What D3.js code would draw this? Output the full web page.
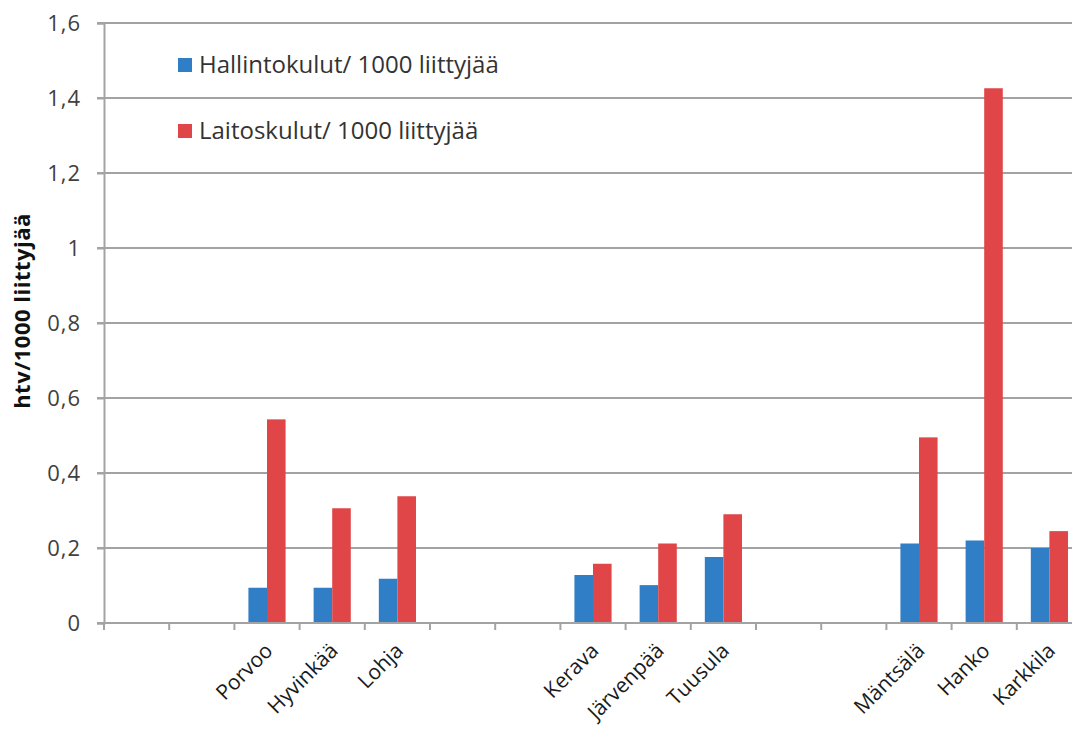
<!DOCTYPE html>
<html><head><meta charset="utf-8">
<script src="https://cdn.jsdelivr.net/npm/d3@7"></script>
<style>
html,body{margin:0;padding:0;background:#fff;overflow:hidden;}
svg text{font-family:"Open Sans","Noto Sans",sans-serif;}
</style></head>
<body><svg id="c" width="1072" height="734"></svg>
<script>
const categories = ["", "", "Porvoo", "Hyvinkää", "Lohja", "", "", "Kerava", "Järvenpää", "Tuusula", "", "", "Mäntsälä", "Hanko", "Karkkila"];
const hallinto = [null, null, 0.094, 0.094, 0.118, null, null, 0.128, 0.101, 0.176, null, null, 0.212, 0.220, 0.200];
const laitos   = [null, null, 0.543, 0.306, 0.338, null, null, 0.158, 0.212, 0.290, null, null, 0.495, 1.426, 0.245];
const seriesNames = ["Hallintokulut/ 1000 liittyjää", "Laitoskulut/ 1000 liittyjää"];
const yTicks = [0, 0.2, 0.4, 0.6, 0.8, 1, 1.2, 1.4, 1.6];
const yTitle = "htv/1000 liittyjää";

(function () {
const colors = ["#2f7ec6", "#e04548"];
const svg = d3.select("#c");
const mLeft = 104, mRight = 1082, mTop = 23, mBottom = 623;

const x = d3.scaleBand().domain(d3.range(categories.length)).range([mLeft, mRight]).paddingInner(0).paddingOuter(0);
const y = d3.scaleLinear().domain([0, 1.6]).range([mBottom, mTop]);
const bw = x.bandwidth();
const barW = bw * 0.285;

// gridlines
svg.append("g").selectAll("line").data(yTicks.filter(d => d > 0)).join("line")
  .attr("x1", mLeft - 7).attr("x2", mRight).attr("y1", d => y(d)).attr("y2", d => y(d))
  .attr("stroke", "#a3a3a3").attr("stroke-width", 2);

// y axis
const fmt = d => String(d).replace(".", ",");
const yAxis = svg.append("g").attr("transform", `translate(${mLeft},0)`)
  .call(d3.axisLeft(y).tickValues(yTicks).tickFormat(fmt).tickSize(7).tickPadding(16));
yAxis.select(".domain").attr("stroke", "#a3a3a3").attr("stroke-width", 2);
yAxis.selectAll(".tick line").attr("stroke", "#a3a3a3").attr("stroke-width", 2);
yAxis.selectAll(".tick text").attr("font-size", 22).attr("fill", "#404040").attr("letter-spacing", 1);

// bars
const series = [hallinto, laitos];
series.forEach((vals, si) => {
  svg.append("g").selectAll("rect").data(vals.map((v, i) => ({v, i})).filter(d => d.v != null)).join("rect")
    .attr("x", d => x(d.i) + bw / 2 - barW + si * barW)
    .attr("width", barW)
    .attr("y", d => y(d.v))
    .attr("height", d => y(0) - y(d.v))
    .attr("fill", colors[si]);
});

// x axis
const xAxisG = svg.append("g").attr("transform", `translate(0,${mBottom})`);
xAxisG.append("line").attr("x1", mLeft - 7).attr("x2", mRight).attr("y1", 0).attr("y2", 0)
  .attr("stroke", "#a3a3a3").attr("stroke-width", 2);
xAxisG.selectAll("line.tk").data(d3.range(categories.length + 1)).join("line").attr("class", "tk")
  .attr("x1", i => mLeft + i * bw).attr("x2", i => mLeft + i * bw).attr("y1", 0).attr("y2", 7)
  .attr("stroke", "#a3a3a3").attr("stroke-width", 2);
xAxisG.selectAll("text").data(categories.map((c, i) => ({c, i})).filter(d => d.c)).join("text")
  .attr("transform", d => `translate(${x(d.i) + bw / 2 + 7},${29}) rotate(-45)`)
  .attr("text-anchor", "end").attr("font-size", 21).attr("fill", "#1a1a1a").text(d => d.c);

// y title
svg.append("text").attr("transform", `translate(30,311) rotate(-90)`)
  .attr("text-anchor", "middle").attr("font-size", 22).attr("font-weight", "bold").attr("fill", "#111")
  .attr("letter-spacing", 0.5)
  .text(yTitle);

// legend
const lg = svg.append("g");
seriesNames.forEach((n, i) => {
  const ly = 65 + i * 66;
  lg.append("rect").attr("x", 178).attr("y", ly - 7).attr("width", 14).attr("height", 14).attr("fill", colors[i]);
  lg.append("text").attr("x", 199).attr("y", ly + 8).attr("font-size", 24).attr("fill", "#333").text(n);
});
})();
</script></body></html>
